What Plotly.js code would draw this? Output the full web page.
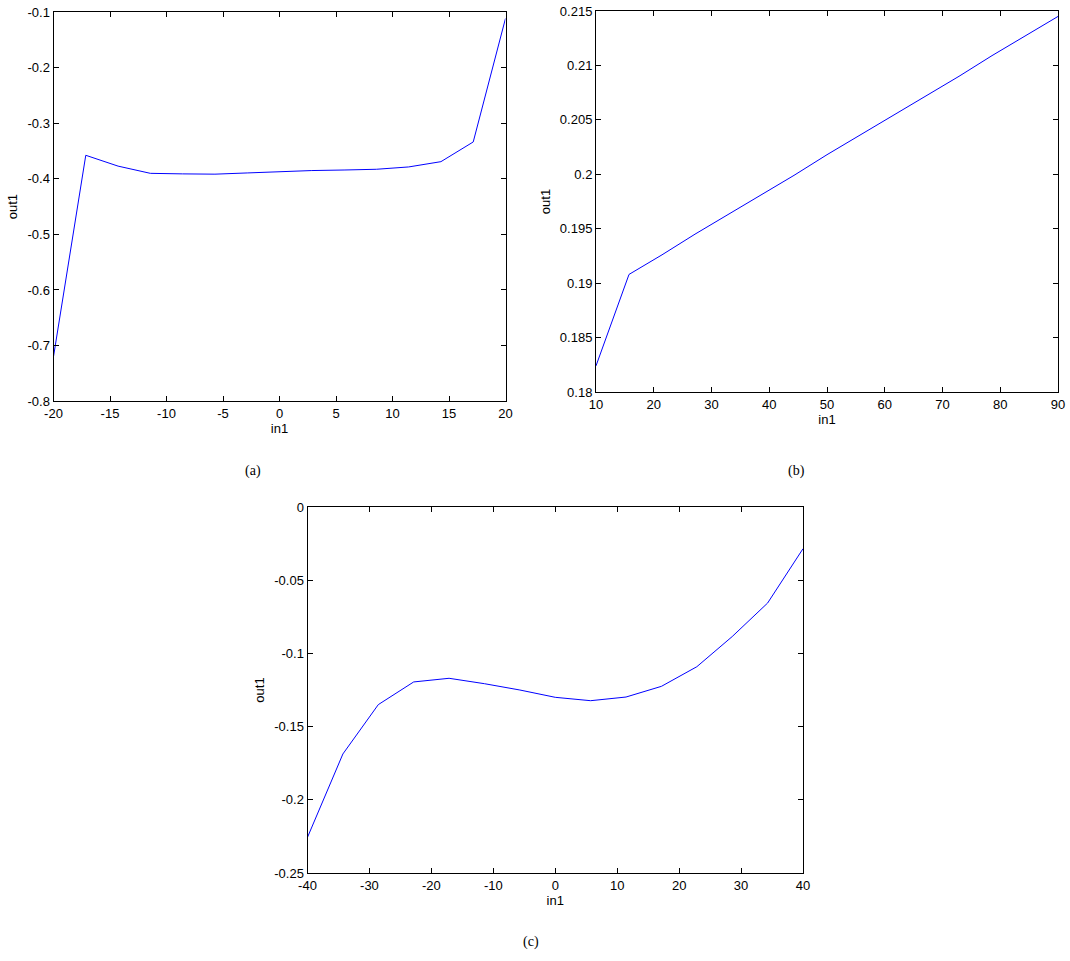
<!DOCTYPE html>
<html>
<head>
<meta charset="utf-8">
<script src="https://cdn.plot.ly/plotly-3.0.1.min.js"></script>
<style>html,body{margin:0;padding:0;background:#fff;}#chart{width:1070px;height:961px;}</style>
</head>
<body>
<div id="chart"></div>
<script>
// (a) in1 vs out1
const xA = [-20, -17.143, -14.286, -11.429, -8.571, -5.714, -2.857, 0, 2.857, 5.714, 8.571, 11.429, 14.286, 17.143, 20];
const yA = [-0.720, -0.3575, -0.377, -0.390, -0.391, -0.3915, -0.3893, -0.387, -0.385, -0.384, -0.3827, -0.3785, -0.369, -0.3335, -0.111];
// (b)
const xB = [10, 15.714, 21.429, 27.143, 32.857, 38.571, 44.286, 50, 55.714, 61.429, 67.143, 72.857, 78.571, 84.286, 90];
const yB = [0.1824, 0.1908, 0.1926, 0.1945, 0.1963, 0.1981, 0.1999, 0.2018, 0.2036, 0.2054, 0.2072, 0.2090, 0.2109, 0.2127, 0.2145];
// (c)
const xC = [-40, -34.286, -28.571, -22.857, -17.143, -11.429, -5.714, 0, 5.714, 11.429, 17.143, 22.857, 28.571, 34.286, 40];
const yC = [-0.2256, -0.1687, -0.1350, -0.1195, -0.1170, -0.1207, -0.1250, -0.1300, -0.1323, -0.1298, -0.1225, -0.1091, -0.0885, -0.0656, -0.0285];

const ticksA_x = [-20, -15, -10, -5, 0, 5, 10, 15, 20];
const ticksA_y = [-0.8, -0.7, -0.6, -0.5, -0.4, -0.3, -0.2, -0.1];
const ticksB_x = [10, 20, 30, 40, 50, 60, 70, 80, 90];
const ticksB_y = [0.18, 0.185, 0.19, 0.195, 0.2, 0.205, 0.21, 0.215];
const ticksC_x = [-40, -30, -20, -10, 0, 10, 20, 30, 40];
const ticksC_y = [-0.25, -0.2, -0.15, -0.1, -0.05, 0];
const captions = ['(a)', '(b)', '(c)'];
const xTitle = 'in1';
const yTitle = 'out1';

const W = 1070, H = 961;
const fx = p => p / W;
const fy = p => 1 - p / H;
const font = {family: 'Liberation Sans, Arial, sans-serif', size: 13, color: '#000'};

function ax(domain, range, tickvals, anchor, isX) {
  return {
    domain: domain, range: range, anchor: anchor,
    tickmode: 'array', tickvals: tickvals, ticktext: tickvals.map(v => String(v)),
    ticks: 'inside', ticklen: 5, tickwidth: 1, tickcolor: '#000',
    showline: true, linecolor: '#000', linewidth: 1, mirror: 'ticks',
    showgrid: false, zeroline: false, automargin: false,
    tickfont: font,
    title: {text: isX ? xTitle : yTitle, font: font, standoff: isX ? 4 : 6}
  };
}

const line = {color: '#0000ff', width: 1};
const data = [
  {x: xA, y: yA, type: 'scatter', mode: 'lines', line: line, xaxis: 'x', yaxis: 'y'},
  {x: xB, y: yB, type: 'scatter', mode: 'lines', line: line, xaxis: 'x2', yaxis: 'y2'},
  {x: xC, y: yC, type: 'scatter', mode: 'lines', line: line, xaxis: 'x3', yaxis: 'y3'}
];

const capFont = {family: 'Liberation Serif, Times New Roman, serif', size: 14, color: '#000'};
const layout = {
  width: W, height: H,
  margin: {l: 0, r: 0, t: 0, b: 0},
  paper_bgcolor: '#fff', plot_bgcolor: '#fff',
  showlegend: false,
  xaxis: ax([fx(53.5), fx(505.5)], [-20, 20], ticksA_x, 'y', true),
  yaxis: ax([fy(401), fy(12.3)], [-0.8, -0.1], ticksA_y, 'x', false),
  xaxis2: ax([fx(596), fx(1058)], [10, 90], ticksB_x, 'y2', true),
  yaxis2: ax([fy(392), fy(11)], [0.18, 0.215], ticksB_y, 'x2', false),
  xaxis3: ax([fx(307.5), fx(803)], [-40, 40], ticksC_x, 'y3', true),
  yaxis3: ax([fy(873), fy(507)], [-0.25, 0], ticksC_y, 'x3', false),
  annotations: [
    {text: captions[0], x: fx(253), y: fy(471), xref: 'paper', yref: 'paper', showarrow: false, font: capFont, xanchor: 'center', yanchor: 'middle'},
    {text: captions[1], x: fx(796), y: fy(471), xref: 'paper', yref: 'paper', showarrow: false, font: capFont, xanchor: 'center', yanchor: 'middle'},
    {text: captions[2], x: fx(531), y: fy(942), xref: 'paper', yref: 'paper', showarrow: false, font: capFont, xanchor: 'center', yanchor: 'middle'}
  ]
};

Plotly.newPlot('chart', data, layout, {staticPlot: true, displayModeBar: false});
</script>
</body>
</html>
